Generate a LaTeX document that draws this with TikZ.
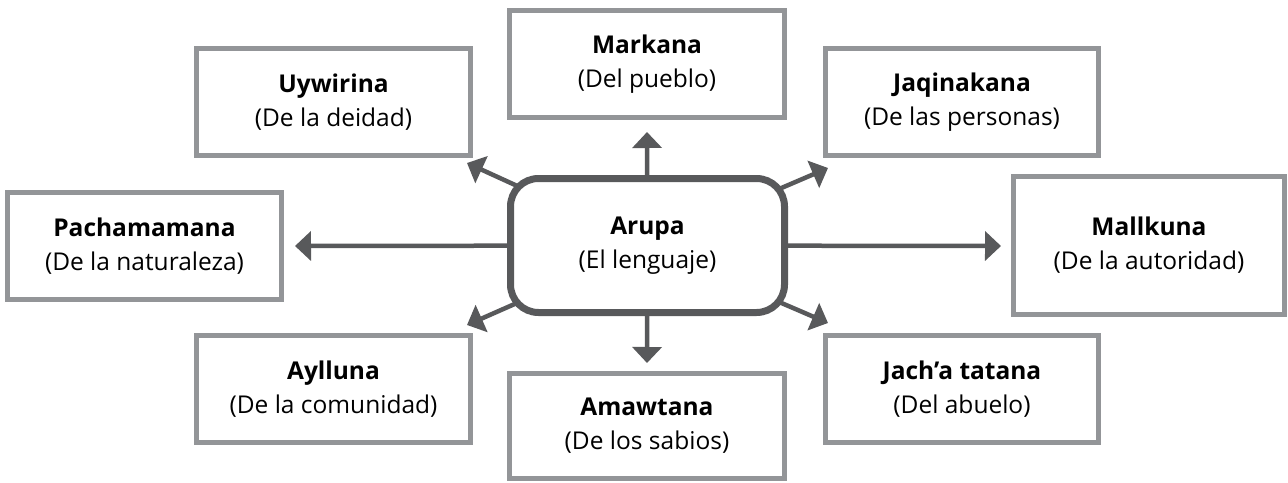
\documentclass[tikz,border=0pt]{standalone}
\usepackage{fontspec}
\setmainfont{Open Sans}
\usetikzlibrary{arrows.meta,backgrounds}
\definecolor{boxgray}{HTML}{939598}
\definecolor{darkgray}{HTML}{58595B}
\begin{document}
\begin{tikzpicture}[x=1pt,y=-1pt,
  txt/.style={align=center,font=\fontsize{24.5}{34}\selectfont,text=black},
  box/.style={txt,draw=boxgray,line width=5pt,fill=white,inner sep=0pt,minimum width=274pt,minimum height=107pt},
  hub/.style={txt,draw=darkgray,line width=7pt,rounded corners=28pt,fill=white,inner sep=0pt,minimum width=274pt,minimum height=134pt},
  arr/.style={draw=darkgray,line width=4.5pt,-{Triangle[length=16pt,width=29pt]}}]
\useasboundingbox (0,0) rectangle (1288,482);

\node[hub] (c) at (647.5,245.5) {\textbf{Arupa}\\(El lenguaje)};

\node[box] (uy) at (333.5,102) {\textbf{Uywirina}\\(De la deidad)};
\node[box,minimum width=275pt] (mk) at (647,64) {\textbf{Markana}\\(Del pueblo)};
\node[box,minimum width=273pt] (jq) at (962,102) {\textbf{Jaqinakana}\\(De las personas)};
\node[box] (pa) at (144.5,246) {\textbf{Pachamamana}\\(De la naturaleza)};
\node[box,minimum width=271pt,minimum height=138pt] (ml) at (1149,245.5) {\textbf{Mallkuna}\\(De la autoridad)};
\node[box] (ay) at (333.5,389) {\textbf{Aylluna}\\(De la comunidad)};
\node[box,minimum width=275pt,minimum height=105pt] (am) at (647,426) {\textbf{Amawtana}\\(De los sabios)};
\node[box,minimum width=273pt] (jt) at (962,389) {\textbf{Jach’a tatana}\\(Del abuelo)};

\coordinate (tN) at (647,132);
\coordinate (tS) at (647,363);
\coordinate (tW) at (295,246);
\coordinate (tE) at (1001,246);
\coordinate (tNW) at (467,163);
\coordinate (tNE) at (828,168);
\coordinate (tSW) at (467,325);
\coordinate (tSE) at (828,323);

\begin{scope}[on background layer]
\fill[white] (0,0) rectangle (1288,482);
\foreach \t in {tN,tS,tW,tE,tNW,tNE,tSW,tSE}
  \draw[arr] (c.center) -- (\t);
\end{scope}
\end{tikzpicture}
\end{document}
